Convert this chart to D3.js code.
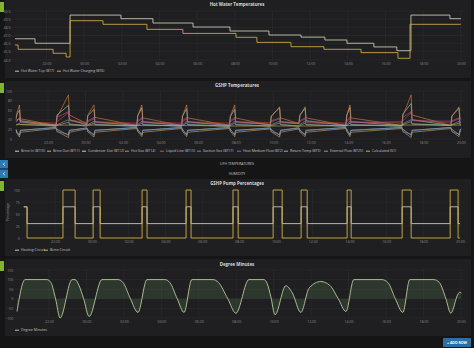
<!DOCTYPE html>
<html><head><meta charset="utf-8">
<script src="https://cdn.jsdelivr.net/npm/d3@7"></script>
<style>
html,body{margin:0;padding:0;background:#151516;overflow:hidden}
svg{display:block;font-family:"Open Sans",sans-serif}
</style></head><body>
<svg id="c" width="474" height="348"></svg>
<script>
// ---------------- DATA (hours after midnight of day 1) ----------------
const timeDomainHours = [20.1667, 44.1667];

// Hot Water Temperatures
const hwTopTimes = [20.33, 21.39, 23.09, 23.25, 25.95, 27.65, 29.78, 31.74, 33.81, 35.51, 36.78, 37.95, 39.38, 40.60, 41.19, 41.35, 43.42, 44.00];
const hwTopValues = [46.6, 46.05, 46.05, 49.5, 49.06, 48.53, 48.04, 47.55, 47.06, 46.8, 46.45, 46.05, 45.6, 45.14, 45.14, 49.5, 49.06, 49.06];
const hwChgTimes = [20.33, 20.49, 22.35, 23.04, 23.12, 23.25, 25.00, 27.33, 29.24, 32.06, 33.17, 34.98, 36.73, 38.70, 40.66, 41.19, 41.30, 44.00];
const hwChgValues = [45.84, 45.31, 44.82, 44.37, 44.37, 48.81, 48.37, 47.75, 47.26, 46.78, 46.16, 45.63, 45.31, 44.9, 44.21, 44.21, 48.37, 48.37];
const hwYTicks = [44, 45, 46, 47, 48, 49, 50];

// GSHP Temperatures
const gshpTimes = [20.30,20.35,20.48,20.53, 22.43,22.48,23.09,23.14, 24.07,24.12,24.45,24.50, 26.73,26.78,27.00,27.05, 29.12,29.17,29.39,29.44, 31.67,31.72,31.95,32.00, 33.85,33.90,34.34,34.39, 35.37,35.42,35.70,35.75, 37.87,37.92,38.09,38.14, 40.86,40.91,41.35,41.40, 43.47,43.52,43.90,43.95, 44.00];
const brineIn      = [20,14,8,18, 24,20,8,18, 23,19,8,18, 24,20,9,18, 24,20,9,18, 24,20,9,18, 23,19,8,18, 23,19,9,18, 24,20,9,18, 24,20,8,18, 24,20,9,18, 21];
const brineOut     = [18,12,4,14, 22,16,3,14, 21,15,4,14, 22,16,5,14, 22,16,5,14, 22,16,5,14, 21,15,4,14, 21,15,5,14, 22,16,5,14, 22,16,3,14, 22,16,5,14, 18];
const condenserOut = [45,52,60,38, 28,50,70,40, 30,48,62,36, 28,48,65,36, 28,48,63,36, 28,47,62,36, 30,48,65,36, 32,50,64,38, 28,50,66,36, 28,52,74,40, 28,48,64,36, 34];
const hotGas       = [40,55,71,42, 28,45,92,50, 32,50,71,45, 28,48,71,44, 28,48,71,44, 28,48,71,44, 28,47,67,44, 32,48,67,44, 28,48,71,44, 28,48,92,50, 28,47,67,44, 42];
const liquidLine   = [36,38,42,36, 33,36,55,40, 34,36,42,36, 33,36,42,36, 33,36,42,36, 33,36,42,36, 34,36,42,36, 34,36,42,36, 33,36,42,36, 33,38,55,40, 33,36,42,36, 35];
const suctionGas   = [14,12,10,18, 24,15,10,18, 23,15,10,18, 24,15,10,18, 24,15,10,18, 24,15,10,18, 23,15,10,18, 24,15,10,18, 24,15,10,18, 24,15,10,18, 24,15,10,18, 22];
const heatMedium   = [35,38,45,34, 30,45,57,38, 31,38,45,34, 30,38,45,34, 30,38,45,34, 30,38,45,34, 31,38,44,34, 32,38,44,34, 30,38,45,34, 36,45,57,38, 37,38,44,34, 33];
const returnTemp   = [29,30,33,30, 27,28,35,30, 27,28,33,30, 27,28,33,30, 27,28,33,30, 27,28,33,30, 27,28,33,30, 27,28,33,30, 27,28,33,30, 27,30,36,31, 28,29,33,30, 29];
const externalFlow = [38,40,42,36, 26,30,40,32, 27,30,37,30, 26,30,37,30, 26,30,37,30, 26,30,37,30, 27,30,37,30, 27,30,37,30, 26,30,37,30, 26,32,40,32, 28,30,37,30, 30];
const calculated   = [30,30,30,30, 29,29,29,29, 29,29,29,29, 28,28,28,28, 28,28,28,28, 27,27,27,27, 27,27,27,27, 27,27,27,27, 28,28,28,28, 29,29,29,29, 29,29,29,29, 29];
const gshpYTicks = [0, 20, 40, 60, 80, 100];

// GSHP Pump Percentages (step values)
const pumpTimes = [20.30, 20.48, 22.43, 23.09, 24.07, 24.45, 26.73, 27.00, 29.12, 29.39, 31.67, 31.95, 33.85, 34.34, 35.37, 35.70, 37.87, 38.09, 40.86, 41.35, 43.47, 43.90, 44.00];
const heatingCircuit = [65, 30, 65, 30, 65, 30, 65, 30, 65, 30, 65, 30, 65, 30, 65, 30, 65, 30, 65, 30, 65, 30, 30];
const brineCircuit   = [65, 0, 100, 0, 100, 0, 100, 0, 100, 0, 100, 0, 100, 0, 100, 0, 100, 0, 100, 0, 100, 0, 0];
const pumpYTicks = [0, 25, 50, 75, 100];

// Degree Minutes
const dmTimes = [20.29, 20.72, 21.89, 22.10, 22.35, 22.59, 23.23, 23.39, 23.60, 23.85, 24.14, 24.83, 25.68, 25.95, 26.35, 26.75, 27.23, 28.19, 28.45, 28.85, 29.21, 29.63, 30.76, 31.05, 31.55, 31.98, 32.68, 33.48, 33.65, 33.85, 34.07, 34.65, 35.00, 35.45, 35.90, 36.52, 37.00, 37.45, 37.86, 38.28, 39.78, 40.10, 40.50, 40.90, 41.27, 42.55, 42.85, 43.20, 43.46, 43.85, 43.95, 44.02];
const dmValues = [-66, 100, 100, 85, 0, -100, 100, 100, 70, 0, -92, 100, 100, 85, 0, -71, 100, 100, 85, 0, -71, 100, 100, 85, 0, -75, 100, 100, 80, 10, -83, 68, 30, -71, 57, 90, 70, 0, -66, 100, 100, 85, 0, -71, 100, 100, 85, 0, -75, 25, 35, 28];
const dmYTicks = [-100, -50, 0, 50, 100, 150];

// ---------------- RENDER ----------------
const T0 = new Date(2016, 0, 1).getTime();
const toDate = h => new Date(T0 + h * 3600000);
const svg = d3.select("#c");
const fmt = d3.timeFormat("%H:%M");

const TICK_COL = "#8a8a8a", GRID_COL = "#2d2d2f", TITLE_COL = "#d8d9da", LEG_COL = "#c4c4c4";

function zip(ts, vs) { return ts.map((t, i) => ({t: toDate(t), v: vs[i]})); }

function panel(cfg) {
  svg.append("rect").attr("x", 5).attr("y", cfg.top).attr("width", 466).attr("height", cfg.bottom - cfg.top).attr("fill", "#1f1f21");
  svg.append("rect").attr("x", 0).attr("y", cfg.top + 2).attr("width", 4).attr("height", 10).attr("fill", "#7fb52f");
  svg.append("text").attr("x", 237).attr("y", cfg.titleY).attr("text-anchor", "middle")
    .attr("font-size", 4.4).attr("font-weight", "bold").attr("fill", TITLE_COL).text(cfg.title);

  const x = d3.scaleTime().domain(timeDomainHours.map(toDate)).range([cfg.left, cfg.right]);
  const y = d3.scaleLinear().domain(cfg.yDomain).range([cfg.yBottom, cfg.yTop]);
  const g = svg.append("g");

  const xt = x.ticks(d3.timeHour.every(2));
  g.selectAll(".vg").data(xt).enter().append("line")
    .attr("x1", d => x(d)).attr("x2", d => x(d)).attr("y1", y(cfg.yDomain[1])).attr("y2", y(cfg.yDomain[0]))
    .attr("stroke", GRID_COL).attr("stroke-width", 0.6);
  g.selectAll(".hg").data(cfg.yTicks).enter().append("line")
    .attr("x1", cfg.left).attr("x2", cfg.right).attr("y1", d => y(d)).attr("y2", d => y(d))
    .attr("stroke", GRID_COL).attr("stroke-width", 0.6);

  const ax = g.append("g").attr("transform", `translate(0,${y(cfg.yDomain[0])})`)
    .call(d3.axisBottom(x).ticks(d3.timeHour.every(2)).tickFormat(fmt).tickSize(0).tickPadding(2.2));
  const ay = g.append("g").attr("transform", `translate(${cfg.left},0)`)
    .call(d3.axisLeft(y).tickValues(cfg.yTicks).tickSize(0).tickPadding(1.5));
  [ax, ay].forEach(a => {
    a.select(".domain").remove();
    a.selectAll("text").attr("font-size", 3.5).attr("fill", TICK_COL).attr("font-family", "Open Sans, sans-serif");
  });

  if (cfg.yLabel) {
    svg.append("text").attr("transform", `translate(${cfg.yLabelX},${cfg.yLabelY}) rotate(-90)`)
      .attr("text-anchor", "middle").attr("font-size", 3.5).attr("fill", TICK_COL).text(cfg.yLabel);
  }

  const plot = g.append("g");
  cfg.series.forEach(s => {
    const data = zip(s.times, s.values);
    if (s.fill) {
      plot.append("path").datum(data)
        .attr("d", d3.area().x(d => x(d.t)).y0(y(0)).y1(d => y(d.v)).curve(s.curve || d3.curveLinear))
        .attr("fill", s.fill);
    }
    plot.append("path").datum(data)
      .attr("d", d3.line().x(d => x(d.t)).y(d => y(d.v)).curve(s.curve || d3.curveLinear))
      .attr("fill", "none").attr("stroke", s.color).attr("stroke-width", cfg.lineWidth || 0.9)
      .attr("stroke-opacity", cfg.lineOpacity || 1).attr("stroke-linejoin", "round");
  });

  cfg.series.forEach((s, i) => {
    const lx = cfg.legendX[i];
    svg.append("line").attr("x1", lx).attr("x2", lx + 4).attr("y1", cfg.legendY - 1.2).attr("y2", cfg.legendY - 1.2)
      .attr("stroke", s.color).attr("stroke-width", 1);
    svg.append("text").attr("x", lx + 6).attr("y", cfg.legendY).attr("font-size", 3.5).attr("fill", LEG_COL).text(s.name);
  });
}

panel({
  top: 0, bottom: 78, title: "Hot Water Temperatures", titleY: 5.6,
  left: 12, right: 464, yTop: 11, yBottom: 60, yDomain: [44, 50], yTicks: hwYTicks,
  legendY: 72.4, legendX: [15, 57],
  series: [
    {name: "Hot Water Top (BT7)", color: "#c3c7ae", times: hwTopTimes, values: hwTopValues, curve: d3.curveStepAfter},
    {name: "Hot Water Charging (BT6)", color: "#c9a646", times: hwChgTimes, values: hwChgValues, curve: d3.curveStepAfter}
  ]
});

panel({
  top: 81, bottom: 158, title: "GSHP Temperatures", titleY: 86.6,
  left: 13.6, right: 464, yTop: 91, yBottom: 139, yDomain: [0, 100], yTicks: gshpYTicks,
  legendY: 152.4, legendX: [15, 47, 82, 125, 160, 197, 237, 284, 324, 366],
  lineWidth: 0.7, lineOpacity: 0.85,
  series: [
    {name: "Brine In (BT10)", color: "#d2d2d2", times: gshpTimes, values: brineIn},
    {name: "Brine Out (BT11)", color: "#d9a46a", times: gshpTimes, values: brineOut},
    {name: "Condenser Out (BT12)", color: "#b4dccd", times: gshpTimes, values: condenserOut},
    {name: "Hot Gas (BT14)", color: "#e5843c", times: gshpTimes, values: hotGas},
    {name: "Liquid Line (BT15)", color: "#c9552f", times: gshpTimes, values: liquidLine},
    {name: "Suction Gas (BT17)", color: "#5a8bbb", times: gshpTimes, values: suctionGas},
    {name: "Heat Medium Flow (BT2)", color: "#b552aa", times: gshpTimes, values: heatMedium},
    {name: "Return Temp (BT3)", color: "#ababab", times: gshpTimes, values: returnTemp},
    {name: "External Flow (BT25)", color: "#6aa8a8", times: gshpTimes, values: externalFlow},
    {name: "Calculated (S1)", color: "#c9b440", times: gshpTimes, values: calculated}
  ]
});

[["UFH TEMPERATURES", 165.4, 160], ["HUMIDITY", 175.2, 169.5]].forEach(([txt, ty, by]) => {
  svg.append("text").attr("x", 237).attr("y", ty).attr("text-anchor", "middle").attr("font-size", 3.5)
    .attr("fill", "#c8c8c8").text(txt);
  svg.append("rect").attr("x", 0).attr("y", by).attr("width", 8).attr("height", 8.5).attr("fill", "#2c7ab4");
  svg.append("path").attr("d", `M5,${by + 2.8} L3,${by + 4.25} L5,${by + 5.7}`).attr("fill", "none")
    .attr("stroke", "#e8f0f8").attr("stroke-width", 0.7);
});

panel({
  top: 179, bottom: 256, title: "GSHP Pump Percentages", titleY: 184.6,
  left: 21.3, right: 463, yTop: 190, yBottom: 238, yDomain: [0, 100], yTicks: pumpYTicks,
  yLabel: "Percentage", yLabelX: 9, yLabelY: 212,
  legendY: 251.4, legendX: [15, 44],
  series: [
    {name: "Heating Circuit", color: "#c8c7b2", times: pumpTimes, values: heatingCircuit, curve: d3.curveStepAfter},
    {name: "Brine Circuit", color: "#d1b14a", times: pumpTimes, values: brineCircuit, curve: d3.curveStepAfter}
  ]
});

panel({
  top: 259, bottom: 336, title: "Degree Minutes", titleY: 265.6,
  left: 14.7, right: 464, yTop: 270, yBottom: 318, yDomain: [-100, 150], yTicks: dmYTicks,
  legendY: 331.4, legendX: [15],
  series: [
    {name: "Degree Minutes", color: "#b9c99a", fill: "rgba(126,178,109,0.16)", times: dmTimes, values: dmValues, curve: d3.curveMonotoneX}
  ]
});

svg.append("rect").attr("x", 443).attr("y", 338).attr("width", 28).attr("height", 9).attr("rx", 0.8).attr("fill", "#2b6fa3");
svg.append("text").attr("x", 457).attr("y", 343.8).attr("text-anchor", "middle").attr("font-size", 3.5)
  .attr("font-weight", "bold").attr("fill", "#ffffff").text("+ ADD ROW");
</script>
</body></html>
